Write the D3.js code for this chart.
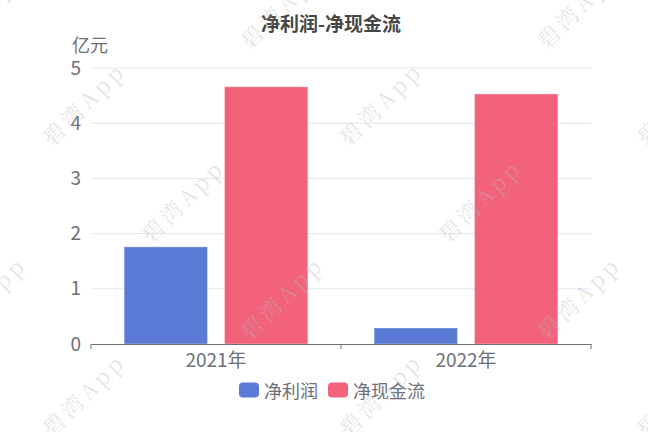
<!DOCTYPE html>
<html>
<head>
<meta charset="utf-8">
<script src="https://cdn.jsdelivr.net/npm/d3@7/dist/d3.min.js"></script>
<style>
  html, body { margin: 0; padding: 0; background: #fff; }
  svg { display: block; font-family: "Noto Sans CJK SC", "Noto Sans", sans-serif; }
</style>
</head>
<body>
<div id="chart"></div>
<script>
// chart data
const years = ["2021年", "2022年"];
const seriesNames = ["净利润", "净现金流"];
const netProfit = [1.76, 0.29];
const netCashFlow = [4.66, 4.53];
const yTicks = [0, 1, 2, 3, 4, 5];
const colors = ["#5b7bd6", "#f2627b"];

const width = 648, height = 432;
const margin = { top: 68, right: 57, bottom: 88, left: 91 };
const innerW = width - margin.left - margin.right;
const innerH = height - margin.top - margin.bottom;

const svg = d3.select("#chart").append("svg")
  .attr("width", width)
  .attr("height", height);

const g = svg.append("g")
  .attr("transform", `translate(${margin.left},${margin.top})`);

// scales
const x0 = d3.scaleBand()
  .domain(years)
  .range([0, innerW]);

const x1 = d3.scaleBand()
  .domain(seriesNames)
  .range([0, x0.bandwidth()])
  .paddingInner(0.17)
  .paddingOuter(0.33);

const y = d3.scaleLinear()
  .domain([0, 5])
  .range([innerH, 0]);

// grid lines
g.append("g")
  .selectAll("line")
  .data(yTicks.filter(d => d > 0))
  .join("line")
  .attr("x1", 0)
  .attr("x2", innerW)
  .attr("y1", d => y(d))
  .attr("y2", d => y(d))
  .attr("stroke", "#e0e6f1")
  .attr("stroke-width", 1);

// y axis labels (no line)
const yAxis = g.append("g")
  .call(d3.axisLeft(y).tickValues(yTicks).tickFormat(d3.format("d")).tickSize(0).tickPadding(10));
yAxis.select(".domain").remove();
yAxis.selectAll("text")
  .style("font-size", "19px")
  .style("fill", "#6e7079")
  .style("font-family", "'Noto Sans CJK SC', sans-serif");

// unit label
g.append("text")
  .attr("x", -19)
  .attr("y", -24)
  .attr("dominant-baseline", "central")
  .style("font-size", "18px")
  .style("fill", "#6e7079")
  .text("亿元");

// bars
const rows = years.map((yr, i) => ({ year: yr, values: [netProfit[i], netCashFlow[i]] }));

g.append("g")
  .selectAll("g")
  .data(rows)
  .join("g")
  .attr("transform", d => `translate(${x0(d.year)},0)`)
  .selectAll("rect")
  .data(d => d.values.map((v, j) => ({ name: seriesNames[j], value: v, color: colors[j] })))
  .join("rect")
  .attr("x", d => x1(d.name))
  .attr("y", d => y(d.value))
  .attr("width", x1.bandwidth())
  .attr("height", d => innerH - y(d.value))
  .attr("fill", d => d.color)
  .attr("stroke", "rgba(255,255,255,0.35)")
  .attr("stroke-width", 1);

// x axis
const xAxis = g.append("g")
  .attr("transform", `translate(0,${innerH})`)
  .call(d3.axisBottom(x0).tickSize(0).tickPadding(10));
xAxis.select(".domain")
  .attr("stroke", "#6e7079");
xAxis.selectAll("text")
  .style("font-size", "19px")
  .style("fill", "#6e7079")
  .style("font-family", "'Noto Sans CJK SC', sans-serif");

// boundary ticks between categories
xAxis.append("g")
  .selectAll("line")
  .data([0, ...years.map(d => x0(d) + x0.bandwidth())])
  .join("line")
  .attr("x1", d => d)
  .attr("x2", d => d)
  .attr("y1", 0)
  .attr("y2", 5)
  .attr("stroke", "#6e7079");

// title
svg.append("text")
  .attr("x", 331)
  .attr("y", 22)
  .attr("text-anchor", "middle")
  .attr("dominant-baseline", "central")
  .style("font-size", "19px")
  .style("font-weight", "bold")
  .style("fill", "#464646")
  .text("净利润-净现金流");

// legend
const legend = svg.append("g").attr("transform", "translate(239,390)");
let lx = 0;
seriesNames.forEach((name, i) => {
  const item = legend.append("g").attr("transform", `translate(${lx},0)`);
  item.append("rect")
    .attr("x", 0)
    .attr("y", -7.5)
    .attr("width", 20)
    .attr("height", 15)
    .attr("rx", 4)
    .attr("fill", colors[i]);
  const t = item.append("text")
    .attr("x", 25)
    .attr("y", 0)
    .attr("dominant-baseline", "central")
    .style("font-size", "18px")
    .style("fill", "#6e7079")
    .text(name);
  lx += 25 + t.node().getComputedTextLength() + 10;
});

// watermark, tiled diagonally over the whole picture
const wm = svg.append("g").attr("class", "watermark").style("pointer-events", "none");
for (let row = -1; row < 6; row++) {
  for (let col = -1; col < 4; col++) {
    const cx = col * 297 + ((row * 99) % 297 + 297) % 297 + 83;
    const cy = row * 97 + 103;
    wm.append("text")
      .attr("transform", `translate(${cx},${cy}) rotate(-45)`)
      .attr("text-anchor", "middle")
      .attr("dominant-baseline", "central")
      .style("font-family", "'Noto Serif CJK SC', 'DejaVu Serif', serif")
      .style("font-size", "22px")
      .style("letter-spacing", "4px")
      .style("fill", "#bbb")
      .style("fill-opacity", 0.38)
      .text("碧湾App");
  }
}
</script>
</body>
</html>
